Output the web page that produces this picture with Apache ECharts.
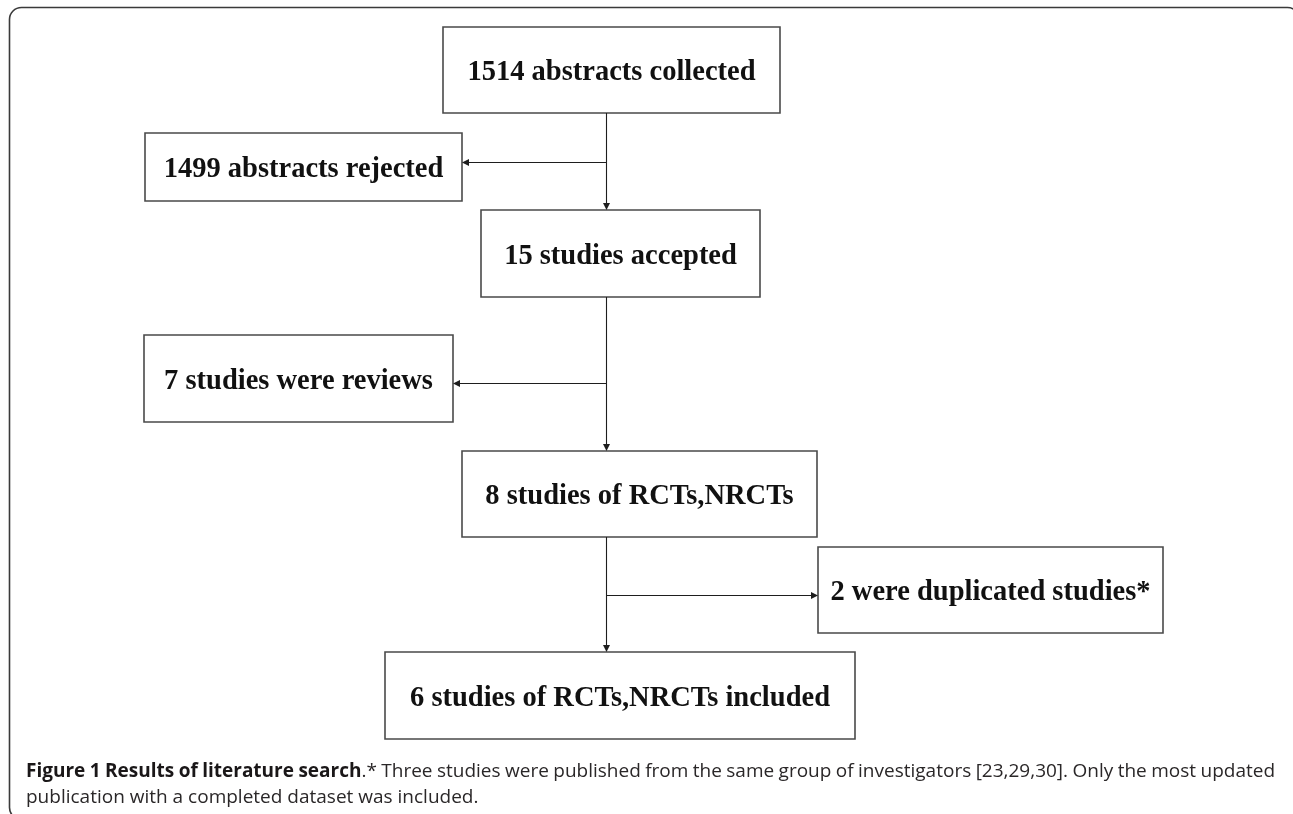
<!DOCTYPE html>
<html>
<head>
<meta charset="utf-8">
<script src="https://cdn.jsdelivr.net/npm/echarts@6/dist/echarts.min.js"></script>
<style>
html,body{margin:0;padding:0;background:#fff;}
#chart{width:1293px;height:814px;}
</style>
</head>
<body>
<div id="chart"></div>
<script>
// ---- content ----
const boxLabels = [
  '1514 abstracts collected',
  '1499 abstracts rejected',
  '15 studies accepted',
  '7 studies were reviews',
  '8 studies of RCTs,NRCTs',
  '2 were duplicated studies*',
  '6 studies of RCTs,NRCTs included'
];
const captionBold = 'Figure 1 Results of literature search';
const captionLine1Rest = '.* Three studies were published from the same group of investigators [23,29,30]. Only the most updated';
const captionLine2 = 'publication with a completed dataset was included.';

// ---- layout (pixel space of the hidden axes) ----
const boxLayout = [
  [443, 27, 780, 113],
  [145, 133, 462, 201],
  [481, 210, 760, 297],
  [144, 335, 453, 422],
  [462, 451, 817, 537],
  [818, 547, 1163, 633],
  [385, 652, 855, 739]
];
const edgeLayout = [
  [606.5, 113, 606.5, 210],
  [606.5, 162.5, 462, 162.5],
  [606.5, 297, 606.5, 451],
  [606.5, 383.5, 453, 383.5],
  [606.5, 537, 606.5, 652],
  [606.5, 595.5, 818, 595.5]
];

const W = 1293, H = 814;
const chart = echarts.init(document.getElementById('chart'), null, {renderer: 'canvas'});

const boxData = boxLayout.map((b, i) => [b[0], b[1], b[2], b[3], i]);

// caption justification via canvas measurement
const CAP_FONT = '"Open Sans"';
const CAP_SIZE = 19;
const mctx = document.createElement('canvas').getContext('2d');
function measure(text, bold) {
  mctx.font = (bold ? 'bold ' : '') + CAP_SIZE + 'px ' + CAP_FONT;
  return mctx.measureText(text).width;
}
function buildWords(segments) {
  const chars = [];
  segments.forEach(s => { for (const c of s.t) chars.push({c, b: s.b}); });
  const words = [];
  let cur = [];
  chars.forEach(ch => {
    if (ch.c === ' ') { if (cur.length) { words.push(cur); cur = []; } }
    else cur.push(ch);
  });
  if (cur.length) words.push(cur);
  return words.map(w => {
    const runs = [];
    w.forEach(ch => {
      const last = runs[runs.length - 1];
      if (last && last.b === ch.b) last.t += ch.c; else runs.push({t: ch.c, b: ch.b});
    });
    runs.forEach(r => r.w = measure(r.t, r.b));
    return {runs, w: runs.reduce((a, r) => a + r.w, 0)};
  });
}
function lineElements(segments, x0, x1, yPos, justify) {
  const words = buildWords(segments);
  const total = words.reduce((a, w) => a + w.w, 0);
  const gap = justify ? (x1 - x0 - total) / (words.length - 1) : measure(' ', false);
  const els = [];
  let x = x0;
  words.forEach(w => {
    let rx = x;
    w.runs.forEach(r => {
      els.push({
        type: 'text', x: rx, y: yPos, silent: true,
        style: {
          text: r.t, fill: r.b ? '#1a1718' : '#2a2728',
          font: (r.b ? 'bold ' : '') + CAP_SIZE + 'px ' + CAP_FONT,
          align: 'left', verticalAlign: 'bottom'
        }
      });
      rx += r.w;
    });
    x += w.w + gap;
  });
  return els;
}

const captionEls = []
  .concat(lineElements([{t: captionBold, b: true}, {t: captionLine1Rest, b: false}], 26, 1275, 781, true))
  .concat(lineElements([{t: captionLine2, b: false}], 26, 1275, 807, false));

const option = {
  animation: false,
  backgroundColor: '#fff',
  grid: {left: 0, right: 0, top: 0, bottom: 0},
  xAxis: {type: 'value', min: 0, max: W, show: false},
  yAxis: {type: 'value', min: 0, max: H, inverse: true, show: false},
  graphic: [
    {
      type: 'rect', silent: true, z: 0,
      shape: {x: 9.5, y: 7.5, width: 1290, height: 812, r: 12},
      style: {fill: 'none', stroke: '#3a3a3a', lineWidth: 1.6}
    }
  ].concat(captionEls),
  series: [
    {
      type: 'custom',
      coordinateSystem: 'cartesian2d',
      silent: true,
      z: 3,
      data: edgeLayout,
      renderItem: function (params, api) {
        const p0 = api.coord([api.value(0), api.value(1)]);
        const p1 = api.coord([api.value(2), api.value(3)]);
        const dx = p1[0] - p0[0], dy = p1[1] - p0[1];
        const len = Math.sqrt(dx * dx + dy * dy);
        const ux = dx / len, uy = dy / len;
        const L = 7, hw = 3.5;
        const bx = p1[0] - ux * L, by = p1[1] - uy * L;
        return {
          type: 'group',
          children: [
            {type: 'line', shape: {x1: p0[0], y1: p0[1], x2: bx, y2: by},
             style: {stroke: '#1e1e1e', lineWidth: 1.1}},
            {type: 'polygon', shape: {points: [[p1[0], p1[1]], [bx - uy * hw, by + ux * hw], [bx + uy * hw, by - ux * hw]]},
             style: {fill: '#1e1e1e'}}
          ]
        };
      }
    },
    {
      type: 'custom',
      coordinateSystem: 'cartesian2d',
      silent: true,
      z: 2,
      data: boxData,
      renderItem: function (params, api) {
        const p0 = api.coord([api.value(0), api.value(1)]);
        const p1 = api.coord([api.value(2), api.value(3)]);
        const idx = api.value(4);
        return {
          type: 'group',
          children: [
            {type: 'rect', shape: {x: p0[0], y: p0[1], width: p1[0] - p0[0], height: p1[1] - p0[1]},
             style: {fill: '#fff', stroke: '#4a4a4a', lineWidth: 1.6}},
            {type: 'text', x: (p0[0] + p1[0]) / 2, y: (p0[1] + p1[1]) / 2 + 3,
             style: {text: boxLabels[idx], fill: '#111', font: 'bold 28.5px "Liberation Serif"',
                     align: 'center', verticalAlign: 'middle'}}
          ]
        };
      }
    }
  ]
};
chart.setOption(option);
</script>
</body>
</html>
